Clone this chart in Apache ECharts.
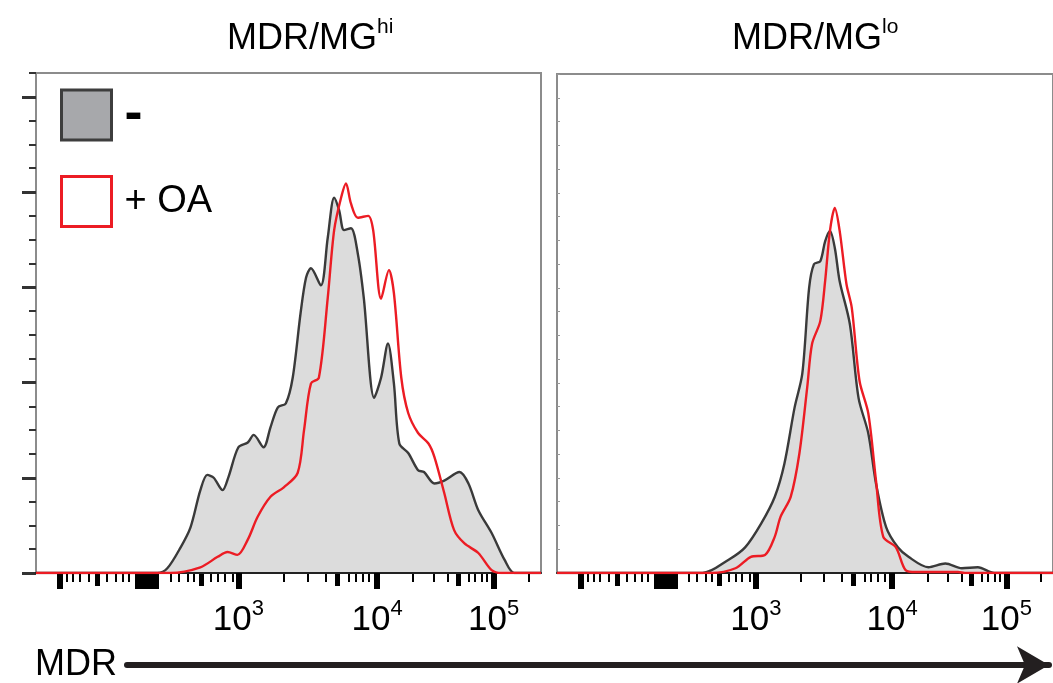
<!DOCTYPE html>
<html>
<head>
<meta charset="utf-8">
<title>MDR histograms</title>
<script src="https://cdn.jsdelivr.net/npm/echarts@6.0.0/dist/echarts.min.js"></script>
<style>
  html, body { margin: 0; padding: 0; background: #fff; }
  #chart { width: 1053px; height: 683px; }
</style>
</head>
<body>
<div id="chart"></div>
<script>
// x is the display channel (0-1023) of the biexponential MDR axis
const decadeTicks = [410, 691, 927];
const decadeExps = ["3", "4", "5"];
const majorTicks = [49, 410, 691, 927];
const fiveTicks = [124, 335, 610, 855];
const minorTicks = [63, 75, 89, 106, 144, 161, 175, 187, 272, 289, 307, 319,
  354, 368, 382, 398, 502, 551, 587, 634, 648, 662, 675, 764, 805, 835, 876,
  888, 902, 913, 998];
const zeroTicks = [203, 209, 215, 221, 227, 233, 239, 245];

// y is the event count (arbitrary units)
const countTicks = [0, 1, 2, 3, 4, 5];
const countMinorTicks = [0.25, 0.5, 0.75, 1.25, 1.5, 1.75, 2.25, 2.5, 2.75,
  3.25, 3.5, 3.75, 4.25, 4.5, 4.75, 5.25];
const countAllTicks = [0, 0.25, 0.5, 0.75, 1, 1.25, 1.5, 1.75, 2, 2.25, 2.5,
  2.75, 3, 3.25, 3.5, 3.75, 4, 4.25, 4.5, 4.75, 5, 5.25];

// MDR/MG hi, untreated
const hiCtrl = [[0, 0], [246, 0], [266, 0.05], [293, 0.27], [313, 0.48],
  [333, 0.87], [347, 1.03], [360, 1.0], [378, 0.87], [390, 1.01], [410, 1.32],
  [429, 1.37], [441, 1.45], [461, 1.32], [475, 1.53], [490, 1.74], [506, 1.78],
  [520, 2.05], [536, 2.73], [547, 3.1], [557, 3.2], [577, 3.02], [591, 3.52],
  [604, 3.94], [614, 3.81], [624, 3.6], [638, 3.62], [652, 3.35], [664, 2.89],
  [685, 1.84], [699, 2.05], [713, 2.41], [725, 1.99], [736, 1.36], [754, 1.26],
  [774, 1.08], [786, 1.06], [807, 0.94], [827, 0.97], [858, 1.06], [876, 0.94],
  [896, 0.66], [923, 0.42], [949, 0.14], [969, 0], [1023, 0]];
// MDR/MG hi, + OA
const hiOA = [[0, 0], [272, 0], [333, 0.06], [368, 0.17], [388, 0.22],
  [408, 0.19], [429, 0.35], [449, 0.59], [475, 0.8], [502, 0.9], [530, 1.05],
  [543, 1.5], [557, 1.99], [573, 2.05], [591, 2.89], [604, 3.6], [618, 3.94],
  [628, 4.09], [638, 3.88], [652, 3.73], [673, 3.75], [683, 3.6], [699, 2.88],
  [715, 3.18], [725, 2.94], [740, 2.05], [754, 1.68], [774, 1.47], [795, 1.36],
  [807, 1.22], [827, 0.84], [847, 0.45], [868, 0.31], [896, 0.21], [923, 0.03],
  [943, 0], [1023, 0]];
// MDR/MG lo, untreated
const loCtrl = [[0, 0], [300, 0], [354, 0.14], [388, 0.27], [421, 0.52],
  [449, 0.8], [469, 1.15], [490, 1.74], [506, 2.1], [520, 3.0], [530, 3.25],
  [543, 3.28], [553, 3.49], [563, 3.6], [573, 3.42], [583, 3.07], [604, 2.62],
  [622, 1.84], [642, 1.47], [658, 0.94], [679, 0.48], [703, 0.27], [725, 0.17],
  [766, 0.06], [801, 0.1], [835, 0.05], [868, 0.06], [902, 0], [1023, 0]];
// MDR/MG lo, + OA
const loOA = [[0, 0], [319, 0], [368, 0.05], [400, 0.17], [429, 0.19],
  [449, 0.38], [461, 0.59], [482, 0.8], [500, 1.26], [516, 1.95], [526, 2.41],
  [543, 2.65], [553, 3.07], [563, 3.6], [573, 3.84], [583, 3.6], [597, 3.04],
  [608, 2.79], [624, 2.02], [642, 1.68], [658, 0.97], [673, 0.38], [699, 0.27],
  [719, 0.03], [740, 0.01], [827, 0.01], [841, 0], [1023, 0]];

const FONT = "Liberation Sans";
const GRAY_LINE = "#3a3a3a";
const GRAY_FILL = "#dcdcdc";
const RED = "#ec1c24";
const BOX = "#8c8c8c";

/**
 * One overlay x axis that only draws a set of ticks
 */
function tickAxis(gridIndex, values, length, width) {
  return {
    type: "value",
    gridIndex: gridIndex,
    position: "bottom",
    min: 0,
    max: 1023,
    axisLine: { show: false },
    axisLabel: { show: false },
    splitLine: { show: false },
    axisTick: {
      show: true,
      customValues: values,
      length: length,
      lineStyle: { color: "#000", width: width },
    },
  };
}

/**
 * The x axes of a panel: main line + labels, then the tick layers
 */
function panelXAxes(gridIndex) {
  return [
    {
      type: "value",
      gridIndex: gridIndex,
      position: "bottom",
      min: 0,
      max: 1023,
      z: 3,
      axisLine: { show: true, lineStyle: { color: "#222", width: 2 } },
      splitLine: { show: false },
      axisTick: {
        show: true,
        customValues: majorTicks,
        length: 16,
        lineStyle: { color: "#000", width: 6 },
      },
      axisLabel: {
        show: true,
        customValues: decadeTicks,
        margin: 25,
        formatter: (v) => "{b|10}{s|" + decadeExps[decadeTicks.indexOf(v)] + "}",
        rich: {
          b: { fontFamily: FONT, fontSize: 35, lineHeight: 44, color: "#000" },
          s: { fontFamily: FONT, fontSize: 22, lineHeight: 16, color: "#000", verticalAlign: "top" },
        },
      },
    },
    tickAxis(gridIndex, fiveTicks, 13, 5),
    tickAxis(gridIndex, minorTicks, 9, 2),
    tickAxis(gridIndex, zeroTicks, 16, 3),
  ];
}

function histSeries(name, data, xIndex, yIndex, filled) {
  return {
    name: name,
    type: "line",
    xAxisIndex: xIndex,
    yAxisIndex: yIndex,
    showSymbol: false,
    smooth: 0.3,
    silent: true,
    lineStyle: { color: filled ? GRAY_LINE : RED, width: 2.4 },
    itemStyle: { color: filled ? GRAY_LINE : RED },
    areaStyle: filled ? { color: GRAY_FILL, opacity: 1 } : undefined,
    z: filled ? 2 : 3,
    data: data,
  };
}

function panelTitle(sup, left) {
  return {
    text: "{m|MDR/MG}{s|" + sup + "}",
    left: left,
    top: 12,
    textStyle: {
      rich: {
        m: { fontFamily: FONT, fontSize: 36, fontWeight: "normal", lineHeight: 44, color: "#000" },
        s: { fontFamily: FONT, fontSize: 21, fontWeight: "normal", lineHeight: 16, color: "#000", verticalAlign: "top" },
      },
    },
  };
}

const chart = echarts.init(document.getElementById("chart"));

const option = {
  animation: false,
  textStyle: { fontFamily: FONT },
  title: [panelTitle("hi", 222), panelTitle("lo", 727)],
  legend: {
    orient: "vertical",
    left: 55,
    top: 83,
    itemWidth: 50,
    itemHeight: 50,
    itemGap: 33,
    selectedMode: false,
    data: [
      { name: "-", icon: "rect", itemStyle: { color: "#a7a8ab", borderColor: "#3d3d3d", borderWidth: 3 } },
      { name: "+ OA", icon: "rect", itemStyle: { color: "#ffffff", borderColor: RED, borderWidth: 3 } },
    ],
    formatter: (name) => (name === "-" ? "{dash|-}" : "{oa|+ OA}"),
    textStyle: {
      rich: {
        dash: { fontFamily: FONT, fontSize: 54, lineHeight: 44, fontWeight: "bold", color: "#000", padding: [0, 0, 0, 8] },
        oa: { fontFamily: FONT, fontSize: 38, lineHeight: 44, color: "#000", padding: [0, 0, 0, 8] },
      },
    },
  },
  grid: [
    { left: 36, top: 73, width: 505, height: 500, show: true, borderColor: BOX, borderWidth: 2 },
    { left: 557, top: 74, width: 504, height: 499, show: true, borderColor: BOX, borderWidth: 2 },
    { left: 127, top: 664, right: 4, height: 1 },
  ],
  xAxis: [
    ...panelXAxes(0),
    ...panelXAxes(1),
    {
      type: "value",
      gridIndex: 2,
      position: "top",
      min: 0,
      max: 1,
      name: "MDR",
      nameLocation: "start",
      nameGap: 10,
      nameTextStyle: { fontFamily: FONT, fontSize: 36, color: "#000", verticalAlign: "middle" },
      axisLine: {
        show: true,
        symbol: ["none", "arrow"],
        symbolSize: [28, 32],
        lineStyle: { color: "#231f20", width: 6 },
      },
      axisTick: { show: false },
      axisLabel: { show: false },
      splitLine: { show: false },
    },
  ],
  yAxis: [
    {
      type: "value",
      gridIndex: 0,
      position: "left",
      min: 0,
      max: 5.25,
      axisLine: { show: true, lineStyle: { color: BOX, width: 2 } },
      axisTick: { show: true, customValues: countTicks, length: 14, lineStyle: { color: "#333", width: 3 } },
      axisLabel: { show: false },
      splitLine: { show: false },
    },
    {
      type: "value",
      gridIndex: 0,
      position: "left",
      min: 0,
      max: 5.25,
      axisLine: { show: false },
      axisTick: { show: true, customValues: countMinorTicks, length: 7, lineStyle: { color: "#333", width: 2 } },
      axisLabel: { show: false },
      splitLine: { show: false },
    },
    {
      type: "value",
      gridIndex: 1,
      position: "left",
      min: 0,
      max: 5.25,
      axisLine: { show: true, lineStyle: { color: BOX, width: 2 } },
      axisTick: { show: true, inside: true, customValues: countAllTicks, length: 3, lineStyle: { color: "#999", width: 1 } },
      axisLabel: { show: false },
      splitLine: { show: false },
    },
    { type: "value", gridIndex: 2, show: false },
  ],
  series: [
    histSeries("-", hiCtrl, 0, 0, true),
    histSeries("+ OA", hiOA, 0, 0, false),
    histSeries("-", loCtrl, 4, 2, true),
    histSeries("+ OA", loOA, 4, 2, false),
  ],
};

chart.setOption(option);
</script>
</body>
</html>
